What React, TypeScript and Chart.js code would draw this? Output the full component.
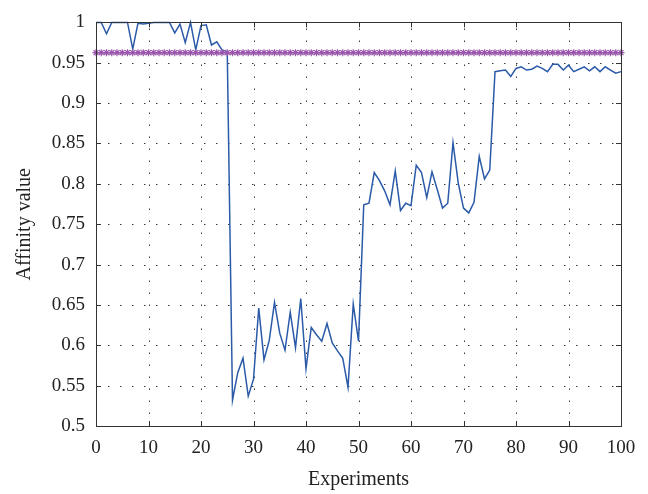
import React, { useEffect, useRef } from "react";
import { Chart, registerables } from "chart.js";

Chart.register(...registerables);

const experiments: number[] = Array.from({ length: 101 }, (_, i) => i);

const affinityValues: number[] = [
  1.0, 1.0, 0.986, 1.0, 1.0, 1.0, 1.0, 0.967, 0.999, 0.998,
  0.999, 1.0, 1.0, 1.0, 1.0, 0.987, 0.998, 0.975, 1.0, 0.966,
  0.996, 0.997, 0.972, 0.976, 0.966, 0.964, 0.532, 0.566, 0.584, 0.537,
  0.558, 0.646, 0.582, 0.606, 0.653, 0.615, 0.594, 0.641, 0.597, 0.658,
  0.571, 0.622, 0.613, 0.605, 0.627, 0.603, 0.593, 0.584, 0.548, 0.651,
  0.605, 0.774, 0.776, 0.814, 0.804, 0.791, 0.774, 0.816, 0.767, 0.776,
  0.773, 0.823, 0.814, 0.783, 0.815, 0.793, 0.770, 0.776, 0.851, 0.801,
  0.770, 0.764, 0.777, 0.834, 0.806, 0.817, 0.939, 0.940, 0.941, 0.933,
  0.943, 0.945, 0.941, 0.942, 0.946, 0.943, 0.939, 0.948, 0.948, 0.941,
  0.947, 0.939, 0.942, 0.945, 0.940, 0.945, 0.939, 0.945, 0.941, 0.937,
  0.939,
];

const thresholdValue = 0.9625;
const thresholdValues: number[] = experiments.map(() => thresholdValue);

const xTicks: number[] = [0, 10, 20, 30, 40, 50, 60, 70, 80, 90, 100];
const yTicks: number[] = [0.5, 0.55, 0.6, 0.65, 0.7, 0.75, 0.8, 0.85, 0.9, 0.95, 1];

const FONT = "'Liberation Serif', 'DejaVu Serif', serif";

const framePlugin = {
  id: "matlabFrame",
  beforeDatasetsDraw(chart: any) {
    const { ctx, chartArea } = chart;
    const xs = chart.scales.x;
    const ys = chart.scales.y;
    ctx.save();
    ctx.strokeStyle = "#3a3a3a";
    ctx.lineWidth = 1;
    ctx.setLineDash([1.5, 10.5]);
    xTicks.forEach((v) => {
      if (v === 0 || v === 100) return;
      const px = Math.round(xs.getPixelForValue(v)) + 0.5;
      ctx.beginPath();
      ctx.moveTo(px, chartArea.bottom);
      ctx.lineTo(px, chartArea.top);
      ctx.stroke();
    });
    yTicks.forEach((v) => {
      if (v === 0.5 || v === 1) return;
      const py = Math.round(ys.getPixelForValue(v)) + 0.5;
      ctx.beginPath();
      ctx.moveTo(chartArea.left, py);
      ctx.lineTo(chartArea.right, py);
      ctx.stroke();
    });
    ctx.restore();
  },
  afterDatasetsDraw(chart: any) {
    const { ctx, chartArea } = chart;
    const xs = chart.scales.x;
    const ys = chart.scales.y;
    const { left, right, top, bottom } = chartArea;
    ctx.save();
    ctx.strokeStyle = "#333333";
    ctx.lineWidth = 1;
    ctx.setLineDash([]);
    ctx.strokeRect(Math.round(left) + 0.5, Math.round(top) + 0.5, Math.round(right - left), Math.round(bottom - top));
    const tl = 5;
    xTicks.forEach((v) => {
      const px = Math.round(xs.getPixelForValue(v)) + 0.5;
      ctx.beginPath();
      ctx.moveTo(px, bottom);
      ctx.lineTo(px, bottom - tl);
      ctx.moveTo(px, top);
      ctx.lineTo(px, top + tl);
      ctx.stroke();
    });
    yTicks.forEach((v) => {
      const py = Math.round(ys.getPixelForValue(v)) + 0.5;
      ctx.beginPath();
      ctx.moveTo(left, py);
      ctx.lineTo(left + tl, py);
      ctx.moveTo(right, py);
      ctx.lineTo(right - tl, py);
      ctx.stroke();
    });
    ctx.restore();
  },
};

export default function App() {
  const canvasRef = useRef<HTMLCanvasElement | null>(null);

  useEffect(() => {
    if (!canvasRef.current) return;
    const chart = new Chart(canvasRef.current, {
      type: "line",
      data: {
        datasets: [
          {
            label: "Threshold",
            data: experiments.map((x, i) => ({ x, y: thresholdValues[i] })),
            borderColor: "#9a55ad",
            backgroundColor: "#9a55ad",
            borderWidth: 1.5,
            pointStyle: "star",
            pointRadius: 3.5,
            pointBorderWidth: 1.2,
            pointBorderColor: "#9a55ad",
            tension: 0,
            clip: false,
          } as any,
          {
            label: "Affinity",
            data: experiments.map((x, i) => ({ x, y: affinityValues[i] })),
            borderColor: "#2a5aa8",
            backgroundColor: "#2a5aa8",
            borderWidth: 1.5,
            pointRadius: 0,
            tension: 0,
            clip: false,
          } as any,
        ],
      },
      options: {
        animation: false,
        responsive: false,
        maintainAspectRatio: false,
        layout: { padding: { left: 0, right: 27, top: 13, bottom: 0 } },
        plugins: { legend: { display: false }, tooltip: { enabled: false } },
        scales: {
          x: {
            type: "linear",
            min: 0,
            max: 100,
            afterBuildTicks: (s: any) => {
              s.ticks = xTicks.map((v) => ({ value: v }));
            },
            afterFit: (s: any) => {
              s.height = 68;
            },
            grid: { display: false, drawTicks: false },
            border: { display: false },
            ticks: {
              padding: 11,
              color: "#222",
              font: { family: FONT, size: 19 },
              maxRotation: 0,
              callback: (v: any) => String(v),
            },
            title: {
              display: true,
              text: "Experiments",
              color: "#222",
              font: { family: FONT, size: 20 },
              padding: { top: 0, bottom: 2 },
            },
          },
          y: {
            type: "linear",
            min: 0.5,
            max: 1,
            afterBuildTicks: (s: any) => {
              s.ticks = yTicks.map((v) => ({ value: v }));
            },
            afterFit: (s: any) => {
              s.width = 96;
            },
            grid: { display: false, drawTicks: false },
            border: { display: false },
            ticks: {
              padding: 11,
              color: "#222",
              font: { family: FONT, size: 19 },
              callback: (v: any) => String(Number(Number(v).toFixed(2))),
            },
            title: {
              display: true,
              text: "Affinity value",
              color: "#222",
              font: { family: FONT, size: 20 },
              padding: { top: 13, bottom: 0 },
            },
          },
        },
      },
      plugins: [framePlugin],
    });
    return () => chart.destroy();
  }, []);

  return (
    <div style={{ position: "fixed", left: 0, top: 0, width: 648, height: 494, background: "#fff" }}>
      <canvas ref={canvasRef} width={648} height={494} style={{ width: 648, height: 494 }} />
    </div>
  );
}
